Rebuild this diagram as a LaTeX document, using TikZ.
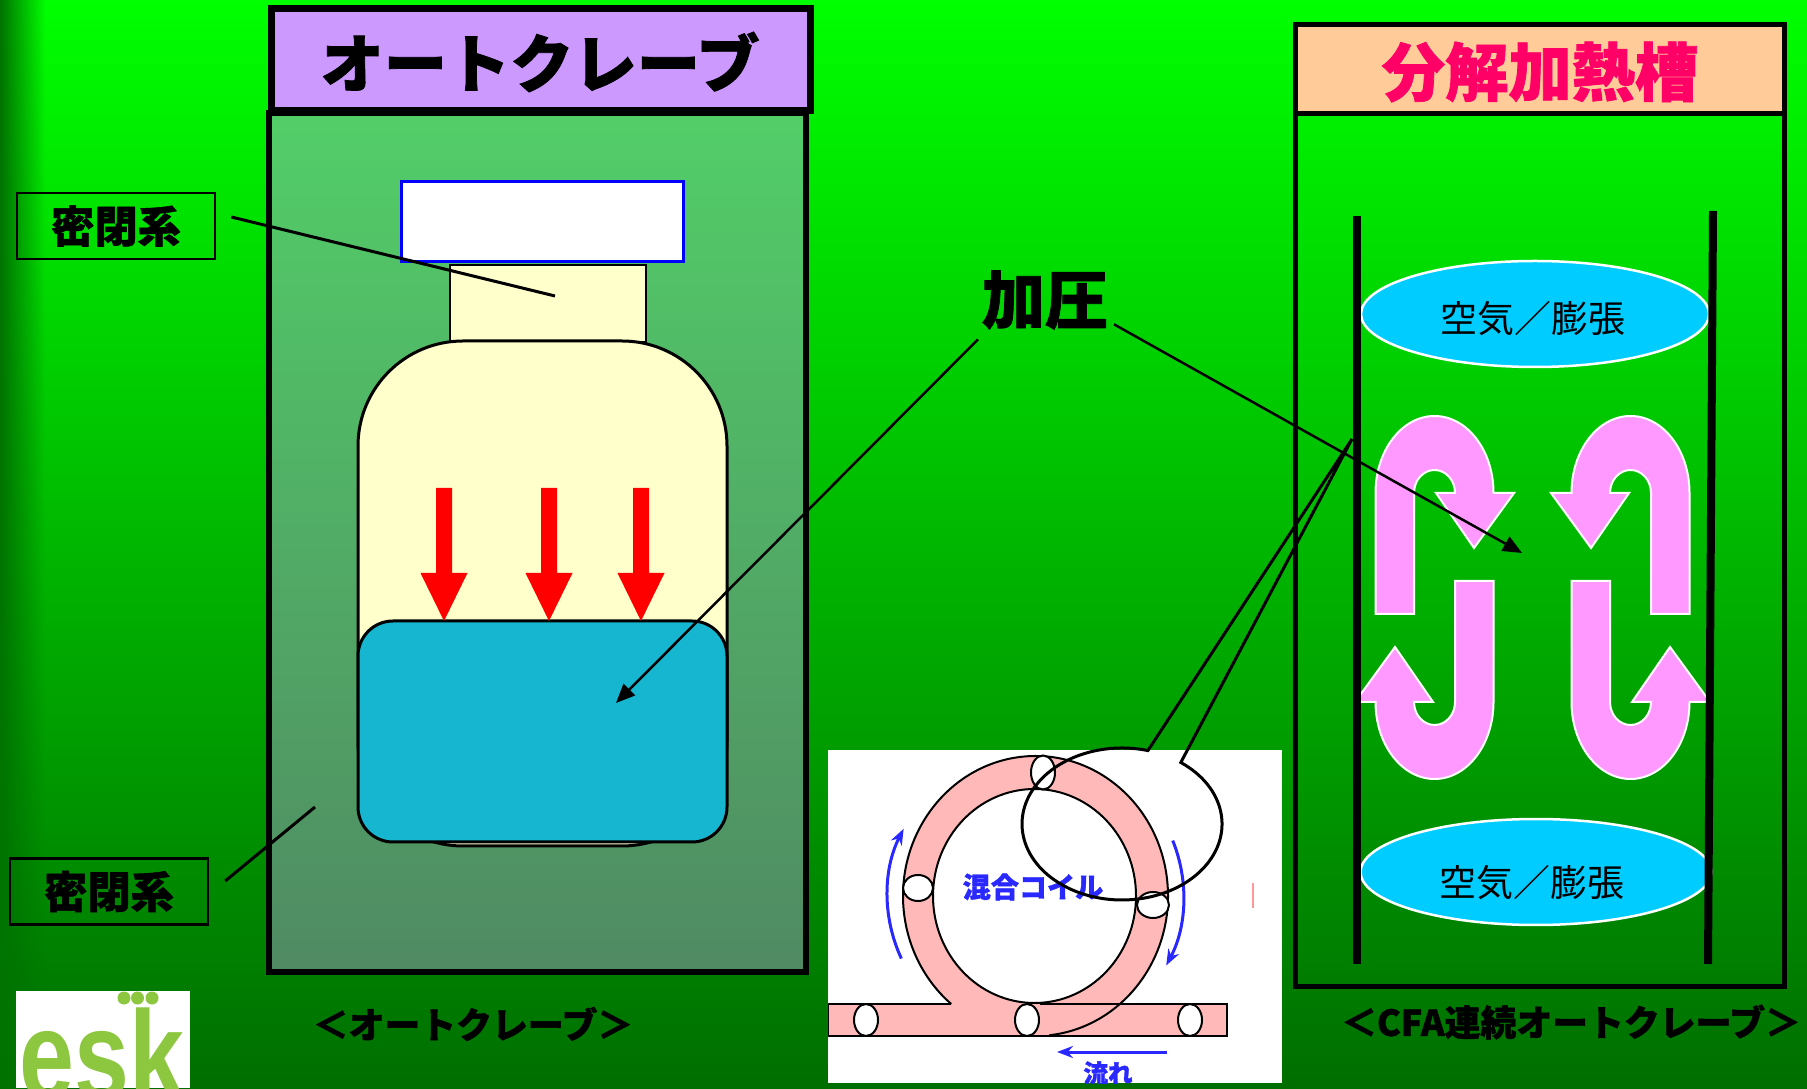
\documentclass[tikz,border=0pt]{standalone}
\usepackage{fontspec}
\newfontfamily\jp{Noto Sans CJK JP}[BoldFeatures={FakeBold=1.2}]
\newfontfamily\logo{Liberation Sans}
\usetikzlibrary{arrows.meta,fadings,shapes.geometric}

\definecolor{bgtop}{RGB}{0,255,0}
\definecolor{bgbot}{RGB}{0,110,0}
\definecolor{boxtop}{RGB}{82,206,104}
\definecolor{boxbot}{RGB}{80,138,99}
\definecolor{lavender}{RGB}{204,153,255}
\definecolor{peach}{RGB}{255,204,153}
\definecolor{cream}{RGB}{255,255,204}
\definecolor{liquid}{RGB}{22,181,208}
\definecolor{airblue}{RGB}{0,204,255}
\definecolor{uturn}{RGB}{255,153,255}
\definecolor{coilpink}{RGB}{255,185,185}
\definecolor{coilblue}{RGB}{40,40,255}
\definecolor{titlepink}{RGB}{255,0,102}
\definecolor{eskgreen}{RGB}{141,198,63}

\tikzfading[name=leftedge, left color=transparent!0, right color=transparent!100]

\begin{document}
\begin{tikzpicture}[
  pointer/.style={line width=0.25mm, -{Triangle[length=1.9mm,width=1.6mm]}},
  sealbox/.style={rectangle, draw, line width=0.25mm, minimum width=1.98cm, minimum height=0.66cm},
  airbubble/.style={ellipse, draw=white, line width=0.25mm, fill=airblue, minimum width=3.5cm, minimum height=1.06cm},
  slug/.style={draw, fill=white, line width=0.2mm},
  flowarc/.style={coilblue, line width=0.3mm, -{Stealth[length=1.6mm,width=1.2mm]}}
]
\useasboundingbox (0,0) rectangle (18.07,10.88);
\clip (0,0) rectangle (18.07,10.88);

% background
\shade [top color=bgtop, bottom color=bgbot] (0,0) rectangle (18.07,10.88);
\fill [green!45!black, path fading=leftedge] (0,0) rectangle (0.45,10.88);

% autoclave
\draw (5.3725,5.455) node (acbox) [rectangle, draw, line width=0.6mm, top color=boxtop, bottom color=boxbot, minimum width=5.375cm, minimum height=8.59cm] {};
\draw (5.4075,10.28) node (actitle) [rectangle, draw, line width=0.7mm, fill=lavender, minimum width=5.385cm, minimum height=1.02cm] {};
\draw (5.40,10.26) node {\jp\bfseries\fontsize{18}{18}\selectfont オートクレーブ};

\draw (5.42,8.66) node (cap) [rectangle, draw=blue, line width=0.3mm, fill=white, minimum width=2.82cm, minimum height=0.80cm] {};
\draw (5.48,7.845) node (neck) [rectangle, draw, line width=0.25mm, fill=cream, minimum width=1.96cm, minimum height=0.77cm] {};
\draw (5.425,4.945) node (body) [rectangle, draw, line width=0.3mm, fill=cream, rounded corners=1.05cm, minimum width=3.69cm, minimum height=5.05cm] {};
\draw (5.425,3.565) node (liquid) [rectangle, draw, line width=0.3mm, fill=liquid, rounded corners=0.35cm, minimum width=3.69cm, minimum height=2.21cm] {};

% pressure arrows
\fill [red] (4.44,4.67) -- ++(0.235,0.48) -- ++(-0.155,0) -- ++(0,0.85) -- ++(-0.16,0) -- ++(0,-0.85) -- ++(-0.155,0) -- cycle;
\fill [red] (5.49,4.67) -- ++(0.235,0.48) -- ++(-0.155,0) -- ++(0,0.85) -- ++(-0.16,0) -- ++(0,-0.85) -- ++(-0.155,0) -- cycle;
\fill [red] (6.41,4.67) -- ++(0.235,0.48) -- ++(-0.155,0) -- ++(0,0.85) -- ++(-0.16,0) -- ++(0,-0.85) -- ++(-0.155,0) -- cycle;

\draw (1.16,8.62) node (seal1) [sealbox] {};
\draw (seal1) node {\jp\bfseries\fontsize{12.3}{12.3}\selectfont 密閉系};
\path (5.55,7.92) coordinate (neckpt);
\draw [line width=0.3mm] ([shift={(0.15,0.09)}]seal1.east) -- (neckpt);

\draw (1.09,1.965) node (seal2) [sealbox] {};
\draw (seal2) node {\jp\bfseries\fontsize{12.3}{12.3}\selectfont 密閉系};
\path (3.15,2.81) coordinate (wallpt);
\draw [line width=0.3mm] ([shift={(0.16,0.105)}]seal2.east) -- (wallpt);

\draw (4.73,0.64) node (accap) {\jp\bfseries\fontsize{10.2}{10.2}\selectfont ＜オートクレーブ＞};

% logo
\fill [white] (0.16,0) rectangle (1.90,0.97);
\begin{scope}
\clip (0.16,0) rectangle (1.90,0.97);
\begin{scope}[shift={(0.19,-0.11)}, xscale=0.78]
\draw (0,0) node (esk) [anchor=base west, inner sep=0pt, text=eskgreen, transform shape] {\logo\bfseries\fontsize{36}{36}\selectfont esk};
\end{scope}
\fill [eskgreen] (1.24,0.90) circle (0.065);
\fill [eskgreen] (1.375,0.90) circle (0.065);
\fill [eskgreen] (1.52,0.90) circle (0.065);
\end{scope}

% continuous autoclave
\draw (15.40,5.38) node (cfabox) [rectangle, draw, line width=0.5mm, minimum width=4.89cm, minimum height=8.72cm] {};
\draw (15.40,10.1875) node (cfatitle) [rectangle, draw, line width=0.5mm, fill=peach, minimum width=4.89cm, minimum height=0.895cm] {};
\draw (15.40,10.16) node [text=titlepink] {\jp\bfseries\fontsize{18}{18}\selectfont 分解加熱槽};

\draw (15.35,7.74) node (air1) [airbubble, minimum width=3.48cm] {};
\draw (15.33,7.69) node {\jp\fontsize{10.5}{10.5}\selectfont 空気／膨張};
\draw (15.36,2.16) node (air2) [airbubble, minimum width=3.51cm] {};
\draw (15.32,2.05) node {\jp\fontsize{10.5}{10.5}\selectfont 空気／膨張};

% circulation
\foreach \sx/\sy/\ux in {1/1/14.345, -1/1/16.305, -1/-1/14.345, 1/-1/16.305} {
  \begin{scope}[shift={(\ux,4.905)}, xscale=\sx, yscale=\sy]
    \filldraw [fill=uturn, draw=white, line width=0.2mm]
      (-0.59,-0.165) -- (-0.59,1.045) arc [start angle=180, end angle=0, x radius=0.59, y radius=0.77]
      -- (0.795,1.045) -- (0.395,0.495) -- (0.015,1.045) -- (0.205,1.045)
      arc [start angle=0, end angle=180, x radius=0.205, y radius=0.23] -- (-0.205,-0.165) -- cycle;
  \end{scope}
}

\draw [line width=0.8mm] (13.565,8.72) -- (13.565,1.24);
\draw [line width=0.8mm] (17.13,8.77) -- (17.08,1.24);

\draw (15.71,0.66) node (cfacap) {\jp\bfseries\fontsize{10.2}{10.2}\selectfont ＜CFA連続オートクレーブ＞};

% mixing coil
\fill [white] (8.28,0.05) rectangle (12.82,3.38);
\begin{scope}
\clip (8.28,0.05) rectangle (12.82,3.38);
\fill [coilpink] (8.28,0.52) rectangle (12.27,0.84);
\fill [coilpink, even odd rule] (10.355,1.92) ellipse [x radius=1.325, y radius=1.40] (10.345,1.92) ellipse [x radius=1.015, y radius=1.07];
\draw [line width=0.2mm] (9.51,0.84) -- (8.28,0.84) -- (8.28,0.52) -- (12.27,0.52) -- (12.27,0.84) -- (10.40,0.84);
\draw [line width=0.2mm] (10.345,1.92) ellipse [x radius=1.015, y radius=1.07];
\draw [line width=0.2mm] (10.355,1.92) ++(-84:1.325 and 1.40) arc [start angle=-84, end angle=230.5, x radius=1.325, y radius=1.40];
\draw (10.43,3.155) node (s1) [slug, ellipse, minimum width=0.24cm, minimum height=0.34cm, inner sep=0pt] {};
\draw (9.18,2.00) node (s2) [slug, ellipse, minimum width=0.30cm, minimum height=0.26cm, inner sep=0pt] {};
\draw (11.53,1.83) node (s3) [slug, ellipse, minimum width=0.32cm, minimum height=0.26cm, inner sep=0pt] {};
\draw (8.66,0.68) node (s4) [slug, ellipse, minimum width=0.24cm, minimum height=0.32cm, inner sep=0pt] {};
\draw (10.27,0.68) node (s5) [slug, ellipse, minimum width=0.24cm, minimum height=0.32cm, inner sep=0pt] {};
\draw (11.90,0.68) node (s6) [slug, ellipse, minimum width=0.24cm, minimum height=0.32cm, inner sep=0pt] {};
\draw [flowarc] (10.355,1.92) ++(205:1.48) arc (205:153:1.48);
\draw [flowarc] (10.355,1.92) ++(22:1.48) arc (22:-28:1.48);
\draw (10.33,2.01) node (coil) [text=coilblue] {\jp\bfseries\fontsize{8}{8}\selectfont 混合コイル};
\path (11.67,0.36) coordinate (flowa);
\path (10.57,0.36) coordinate (flowb);
\draw [flowarc] (flowa) -- (flowb);
\draw (11.08,0.15) node (flow) [text=coilblue] {\jp\bfseries\fontsize{7}{7}\selectfont 流れ};
\draw [red!40, line width=0.15mm] (12.53,2.05) -- (12.53,1.80);
\end{scope}

% magnifier callout
\path (13.52,6.49) coordinate (lensptr);
\draw [line width=0.3mm] (lensptr) -- (11.808,3.255) arc [start angle=54, end angle=-285, x radius=1, y radius=0.76] -- cycle;

% pressure label
\draw (10.45,7.88) node (press) [inner sep=0pt] {\jp\bfseries\fontsize{18}{18}\selectfont 加圧};
\path (6.16,3.85) coordinate (liqpt);
\path (15.22,5.35) coordinate (flowpt);
\draw [pointer] ([shift={(-0.03,-0.09)}]press.south west) -- (liqpt);
\draw [pointer] ([shift={(0.05,0.06)}]press.south east) -- (flowpt);

\end{tikzpicture}
\end{document}
